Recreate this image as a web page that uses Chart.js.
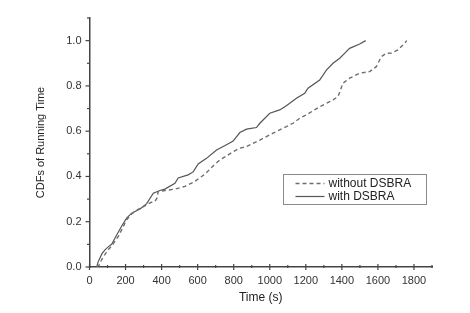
<!DOCTYPE html>
<html>
<head>
<meta charset="utf-8">
<script src="https://cdn.jsdelivr.net/npm/chart.js@4/dist/chart.umd.min.js"></script>
<style>
  html,body{margin:0;padding:0;background:#fff;}
  #wrap{width:470px;height:313px;}
</style>
</head>
<body>
<div id="wrap"><canvas id="c" width="470" height="313"></canvas></div>
<script>
// Series: with DSBRA (solid)
const withX = [40,49,70,86,105,123,150,178,206,234,280,317,354,391,418,474,492,547,575,603,649,705,760,797,834,871,926,945,1000,1055,1092,1148,1194,1212,1277,1314,1351,1388,1415,1443,1499,1532];
const withY = [0,0.025,0.06,0.076,0.09,0.10,0.14,0.18,0.216,0.238,0.256,0.28,0.326,0.338,0.344,0.37,0.393,0.407,0.42,0.455,0.48,0.517,0.54,0.556,0.594,0.609,0.616,0.635,0.679,0.694,0.712,0.745,0.767,0.79,0.826,0.87,0.9,0.922,0.944,0.966,0.985,1.0];
// Series: without DSBRA (dashed)
const withoutX = [40,55,67,85,104,130,160,185,206,234,270,307,340,363,375,381,418,474,529,584,640,690,723,760,797,834,871,945,1018,1055,1092,1129,1166,1203,1277,1351,1379,1406,1443,1499,1554,1591,1619,1646,1674,1711,1748,1760];
const withoutY = [0,0.01,0.032,0.055,0.076,0.1,0.135,0.175,0.209,0.235,0.255,0.27,0.285,0.29,0.305,0.333,0.338,0.344,0.356,0.378,0.41,0.45,0.473,0.49,0.51,0.525,0.532,0.561,0.591,0.606,0.62,0.635,0.657,0.672,0.708,0.738,0.753,0.812,0.834,0.856,0.863,0.885,0.929,0.944,0.945,0.959,0.988,1.0];
const seriesLabels = ["without DSBRA","with DSBRA"];
const xTitle = "Time (s)";
const yTitle = "CDFs of Running Time";

const toPts = (xs, ys) => xs.map((x,i)=>({x:x,y:ys[i]}));
const FONT = "'Liberation Sans', Arial, sans-serif";
const AX = '#444';

const tickPlugin = {
  id:'ticksAndLegend',
  afterDraw(chart){
    const ctx = chart.ctx, xs = chart.scales.x, ys = chart.scales.y;
    ctx.save();
    ctx.strokeStyle = AX; ctx.lineWidth = 1.2;
    const y0 = ys.getPixelForValue(0);
    for(let v=0; v<=1900; v+=100){
      const px = xs.getPixelForValue(v);
      const major = v%200===0;
      ctx.beginPath();
      ctx.moveTo(px, major? y0-3 : y0-2);
      ctx.lineTo(px, major? y0+3 : y0+1);
      ctx.stroke();
    }
    const x0 = xs.getPixelForValue(0);
    for(let k=0;k<=11;k++){
      const v = k/10;
      const py = ys.getPixelForValue(v);
      const major = k%2===0 && k<=10;
      ctx.beginPath();
      ctx.moveTo(major? x0-4 : x0-2.5, py);
      ctx.lineTo(x0+0.5, py);
      ctx.stroke();
    }
    // legend
    const lx = 283.5, ly = 174.5, lw = 143, lh = 30;
    ctx.strokeStyle = '#8a8a8a'; ctx.lineWidth = 1;
    ctx.strokeRect(lx, ly, lw, lh);
    const ds = chart.data.datasets;
    const rows = [ly+9, ly+22];
    ds.forEach((d,i)=>{
      ctx.strokeStyle = d.borderColor; ctx.lineWidth = d.borderWidth;
      ctx.setLineDash(d.borderDash||[]);
      ctx.beginPath(); ctx.moveTo(lx+12, rows[i]); ctx.lineTo(lx+41, rows[i]); ctx.stroke();
      ctx.setLineDash([]);
      ctx.fillStyle = '#222'; ctx.font = '12px '+FONT; ctx.textBaseline='middle'; ctx.textAlign='left';
      ctx.fillText(d.label, lx+45, rows[i]);
    });
    ctx.restore();
  }
};

new Chart(document.getElementById('c'), {
  type:'line',
  data:{
    datasets:[
      {label:seriesLabels[0], data:toPts(withoutX, withoutY), borderColor:'#6e6e6e', borderWidth:1.4, borderDash:[4,3], pointRadius:0, fill:false, tension:0},
      {label:seriesLabels[1], data:toPts(withX, withY), borderColor:'#555', borderWidth:1.2, pointRadius:0, fill:false, tension:0}
    ]
  },
  options:{
    responsive:false, animation:false,
    layout:{padding:{left:0,right:38,top:18,bottom:0}},
    plugins:{legend:{display:false}, tooltip:{enabled:false}},
    scales:{
      x:{
        type:'linear', min:0, max:1900,
        afterBuildTicks(s){ s.ticks = []; for(let v=0; v<=1800; v+=200) s.ticks.push({value:v}); },
        afterFit(s){ s.height = 46; },
        ticks:{font:{family:FONT,size:11}, color:'#333', padding:7, maxRotation:0, autoSkip:false, callback:(v)=>String(v)},
        grid:{display:true, drawOnChartArea:false, drawTicks:false},
        border:{display:true, color:AX, width:1.5},
        title:{display:true, text:xTitle, font:{family:FONT,size:12}, color:'#222', padding:{top:0,bottom:8}}
      },
      y:{
        type:'linear', min:0, max:1.1,
        afterBuildTicks(s){ s.ticks = []; for(let k=0;k<=5;k++) s.ticks.push({value:k*0.2}); },
        afterFit(s){ s.width = 89.5; },
        ticks:{font:{family:FONT,size:11}, color:'#333', padding:8, callback:(v)=>Number(v).toFixed(1)},
        grid:{display:true, drawOnChartArea:false, drawTicks:false},
        border:{display:true, color:AX, width:1.5},
        title:{display:true, text:yTitle, font:{family:FONT,size:11}, color:'#222', padding:{top:34,bottom:0}}
      }
    }
  },
  plugins:[tickPlugin]
});
</script>
</body>
</html>
